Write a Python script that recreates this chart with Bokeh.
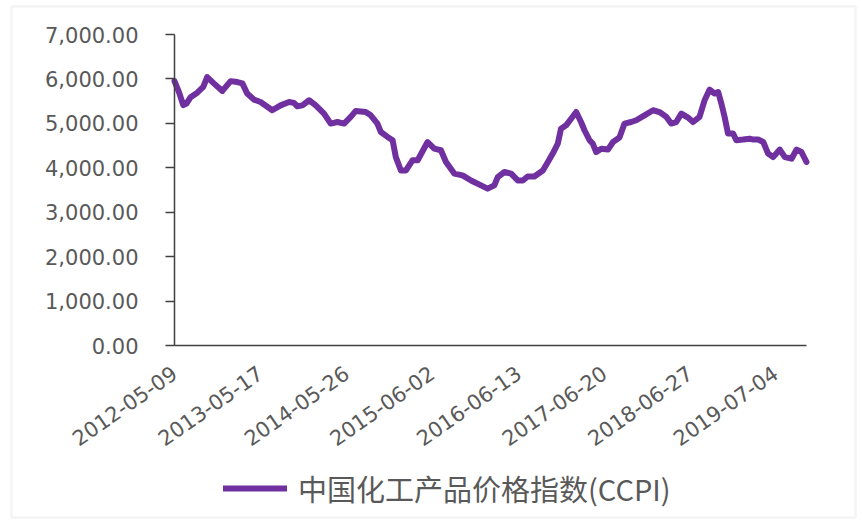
import pandas as pd
from bokeh.plotting import figure
from bokeh.models import (Range1d, FixedTicker, NumeralTickFormatter, DatetimeTickFormatter,
                          DatetimeAxis, LinearAxis, Legend, LegendItem, BoxAnnotation,
                          ColumnDataSource)
from bokeh.embed import file_html
from bokeh.resources import INLINE

# China chemical product price index (CCPI), sampled along the series
dates = [
    "2012-05-09", "2012-05-28", "2012-06-16", "2012-06-30", "2012-07-18", "2012-08-16",
    "2012-09-11", "2012-09-28", "2012-10-27", "2012-12-03", "2013-01-08", "2013-02-06",
    "2013-02-28", "2013-03-21", "2013-04-19", "2013-05-18", "2013-07-08", "2013-08-13",
    "2013-09-19", "2013-10-10", "2013-10-25", "2013-11-16", "2013-12-15", "2014-01-13",
    "2014-02-18", "2014-03-19", "2014-04-17", "2014-05-16", "2014-06-14", "2014-07-06",
    "2014-08-18", "2014-09-09", "2014-10-08", "2014-10-23", "2014-11-21", "2014-12-13",
    "2014-12-27", "2015-01-18", "2015-02-09", "2015-03-10", "2015-04-01", "2015-05-14",
    "2015-06-12", "2015-07-11", "2015-08-02", "2015-09-07", "2015-10-13", "2015-11-19",
    "2016-01-01", "2016-01-30", "2016-02-28", "2016-03-14", "2016-04-12", "2016-05-11",
    "2016-06-09", "2016-07-01", "2016-07-22", "2016-08-20", "2016-09-26", "2016-10-18",
    "2016-11-08", "2016-11-30", "2016-12-14", "2017-01-05", "2017-01-27", "2017-02-18",
    "2017-03-11", "2017-03-26", "2017-04-17", "2017-05-01", "2017-05-16", "2017-06-07",
    "2017-07-06", "2017-07-28", "2017-08-25", "2017-09-16", "2017-10-15", "2017-11-06",
    "2017-12-12", "2018-01-18", "2018-02-15", "2018-03-17", "2018-04-07", "2018-04-29",
    "2018-05-21", "2018-06-19", "2018-07-11", "2018-08-08", "2018-08-30", "2018-09-21",
    "2018-10-13", "2018-10-28", "2018-11-11", "2018-11-25", "2018-12-10", "2019-01-01",
    "2019-01-15", "2019-02-13", "2019-03-14", "2019-03-29", "2019-04-20", "2019-05-12",
    "2019-06-02", "2019-06-24", "2019-07-23", "2019-08-14", "2019-09-12", "2019-10-04",
    "2019-10-25", "2019-11-16",
]
ccpi = [
    5950, 5710, 5410, 5445, 5590, 5690,
    5820, 6040, 5900, 5730, 5950, 5930,
    5900, 5670, 5535, 5480, 5295, 5405,
    5480, 5460, 5385, 5405, 5520, 5405,
    5220, 4995, 5030, 4995, 5145, 5280,
    5255, 5180, 4995, 4805, 4695, 4620,
    4240, 3940, 3940, 4170, 4170, 4580,
    4430, 4395, 4130, 3870, 3830, 3715,
    3605, 3530, 3605, 3790, 3905, 3870,
    3715, 3715, 3805, 3805, 3940, 4130,
    4320, 4545, 4880, 4955, 5105, 5255,
    5030, 4845, 4620, 4545, 4355, 4430,
    4410, 4580, 4680, 4995, 5030, 5070,
    5180, 5295, 5255, 5145, 4995, 5030,
    5220, 5130, 5030, 5145, 5520, 5760,
    5670, 5705, 5445, 5145, 4770, 4770,
    4620, 4635, 4655, 4635, 4635, 4580,
    4320, 4240, 4410, 4240, 4205, 4410,
    4355, 4130,
]
series_name = "中国化工产品价格指数(CCPI)"

x_tick_labels = ["2012-05-09", "2013-05-17", "2014-05-26", "2015-06-02",
                 "2016-06-13", "2017-06-20", "2018-06-27", "2019-07-04"]
y_ticks = [0, 1000, 2000, 3000, 4000, 5000, 6000, 7000]
y_min, y_max = 0, 7000

GRAY = "#595959"
AXIS = "#404040"
PURPLE = "#7030A0"

W, H = 862, 524
# plot area inside the canvas (pixels): left, right, top (value max), bottom (value 0)
PL, PR, PT, PB = 174, 806, 34, 345

dt = pd.to_datetime(dates)
src = ColumnDataSource(dict(date=dt, ccpi=ccpi))

# the drawing frame spans the whole canvas; ranges are padded so the data
# region lands on the plot area and axes are pinned at its edges
t0 = dt[0].value // 10**6
t1 = dt[-1].value // 10**6
ms_per_px = (t1 - t0) / (PR - PL)
x_range = Range1d(t0 - PL * ms_per_px, t1 + (W - PR) * ms_per_px)
v_per_px = (y_max - y_min) / (PB - PT)
y_range = Range1d(y_min - (H - PB) * v_per_px, y_max + PT * v_per_px)

p = figure(width=W, height=H, output_backend="svg", toolbar_location=None,
           x_range=x_range, y_range=y_range,
           x_axis_location=None, y_axis_location=None,
           min_border_left=0, min_border_right=0, min_border_top=0, min_border_bottom=0)
p.outline_line_color = None
for g in p.grid:
    g.visible = False
p.background_fill_color = "white"
p.border_fill_color = "white"

r = p.line("date", "ccpi", source=src, line_color=PURPLE, line_width=6,
           line_join="round", line_cap="round")

# y axis
yax = LinearAxis(fixed_location=t0, bounds=(y_min, y_max))
yax.ticker = FixedTicker(ticks=y_ticks)
yax.formatter = NumeralTickFormatter(format="0,0.00")
yax.major_label_text_font = "DejaVu Sans"
yax.major_label_text_font_size = "21px"
yax.major_label_text_color = GRAY
yax.major_label_standoff = 27
yax.major_tick_out = 9
yax.major_tick_in = 0
yax.minor_tick_out = 0
yax.minor_tick_in = 0
yax.axis_line_color = AXIS
yax.axis_line_width = 1.5
yax.major_tick_line_color = AXIS
yax.major_tick_line_width = 1.5
p.add_layout(yax, "left")

# x axis
x_ticks_ms = [pd.Timestamp(s).value // 10**6 for s in x_tick_labels]
fmt = "%Y-%m-%d"
xax = DatetimeAxis(fixed_location=y_min, bounds=(t0, t1))
xax.ticker = FixedTicker(ticks=x_ticks_ms)
xax.formatter = DatetimeTickFormatter(
    microseconds=fmt, milliseconds=fmt, seconds=fmt, minsec=fmt, minutes=fmt,
    hourmin=fmt, hours=fmt, days=fmt, months=fmt, years=fmt)
xax.major_label_orientation = 0.61
xax.major_label_text_font = "DejaVu Sans"
xax.major_label_text_font_size = "21px"
xax.major_label_text_color = GRAY
xax.major_label_standoff = 25
xax.major_tick_out = 0
xax.major_tick_in = 0
xax.minor_tick_out = 0
xax.minor_tick_in = 0
xax.axis_line_color = AXIS
xax.axis_line_width = 1.5
p.add_layout(xax, "below")

legend = Legend(items=[LegendItem(label=series_name, renderers=[r])],
                location=(223, 15), orientation="horizontal",
                glyph_width=64, glyph_height=30, label_height=30,
                label_standoff=11, padding=0, margin=0, spacing=0,
                border_line_alpha=0, background_fill_alpha=0,
                label_text_font="Noto Sans CJK SC", label_text_font_size="29px",
                label_text_color=GRAY)
p.add_layout(legend, "center")

# light frame around the whole chart
border = BoxAnnotation(left=11, right=855, top=7, bottom=518,
                       left_units="screen", right_units="screen",
                       top_units="screen", bottom_units="screen",
                       fill_alpha=0, line_color="#d9d9d9", line_width=2.5)
p.add_layout(border)

open("out.html", "w").write(file_html(p, INLINE))
